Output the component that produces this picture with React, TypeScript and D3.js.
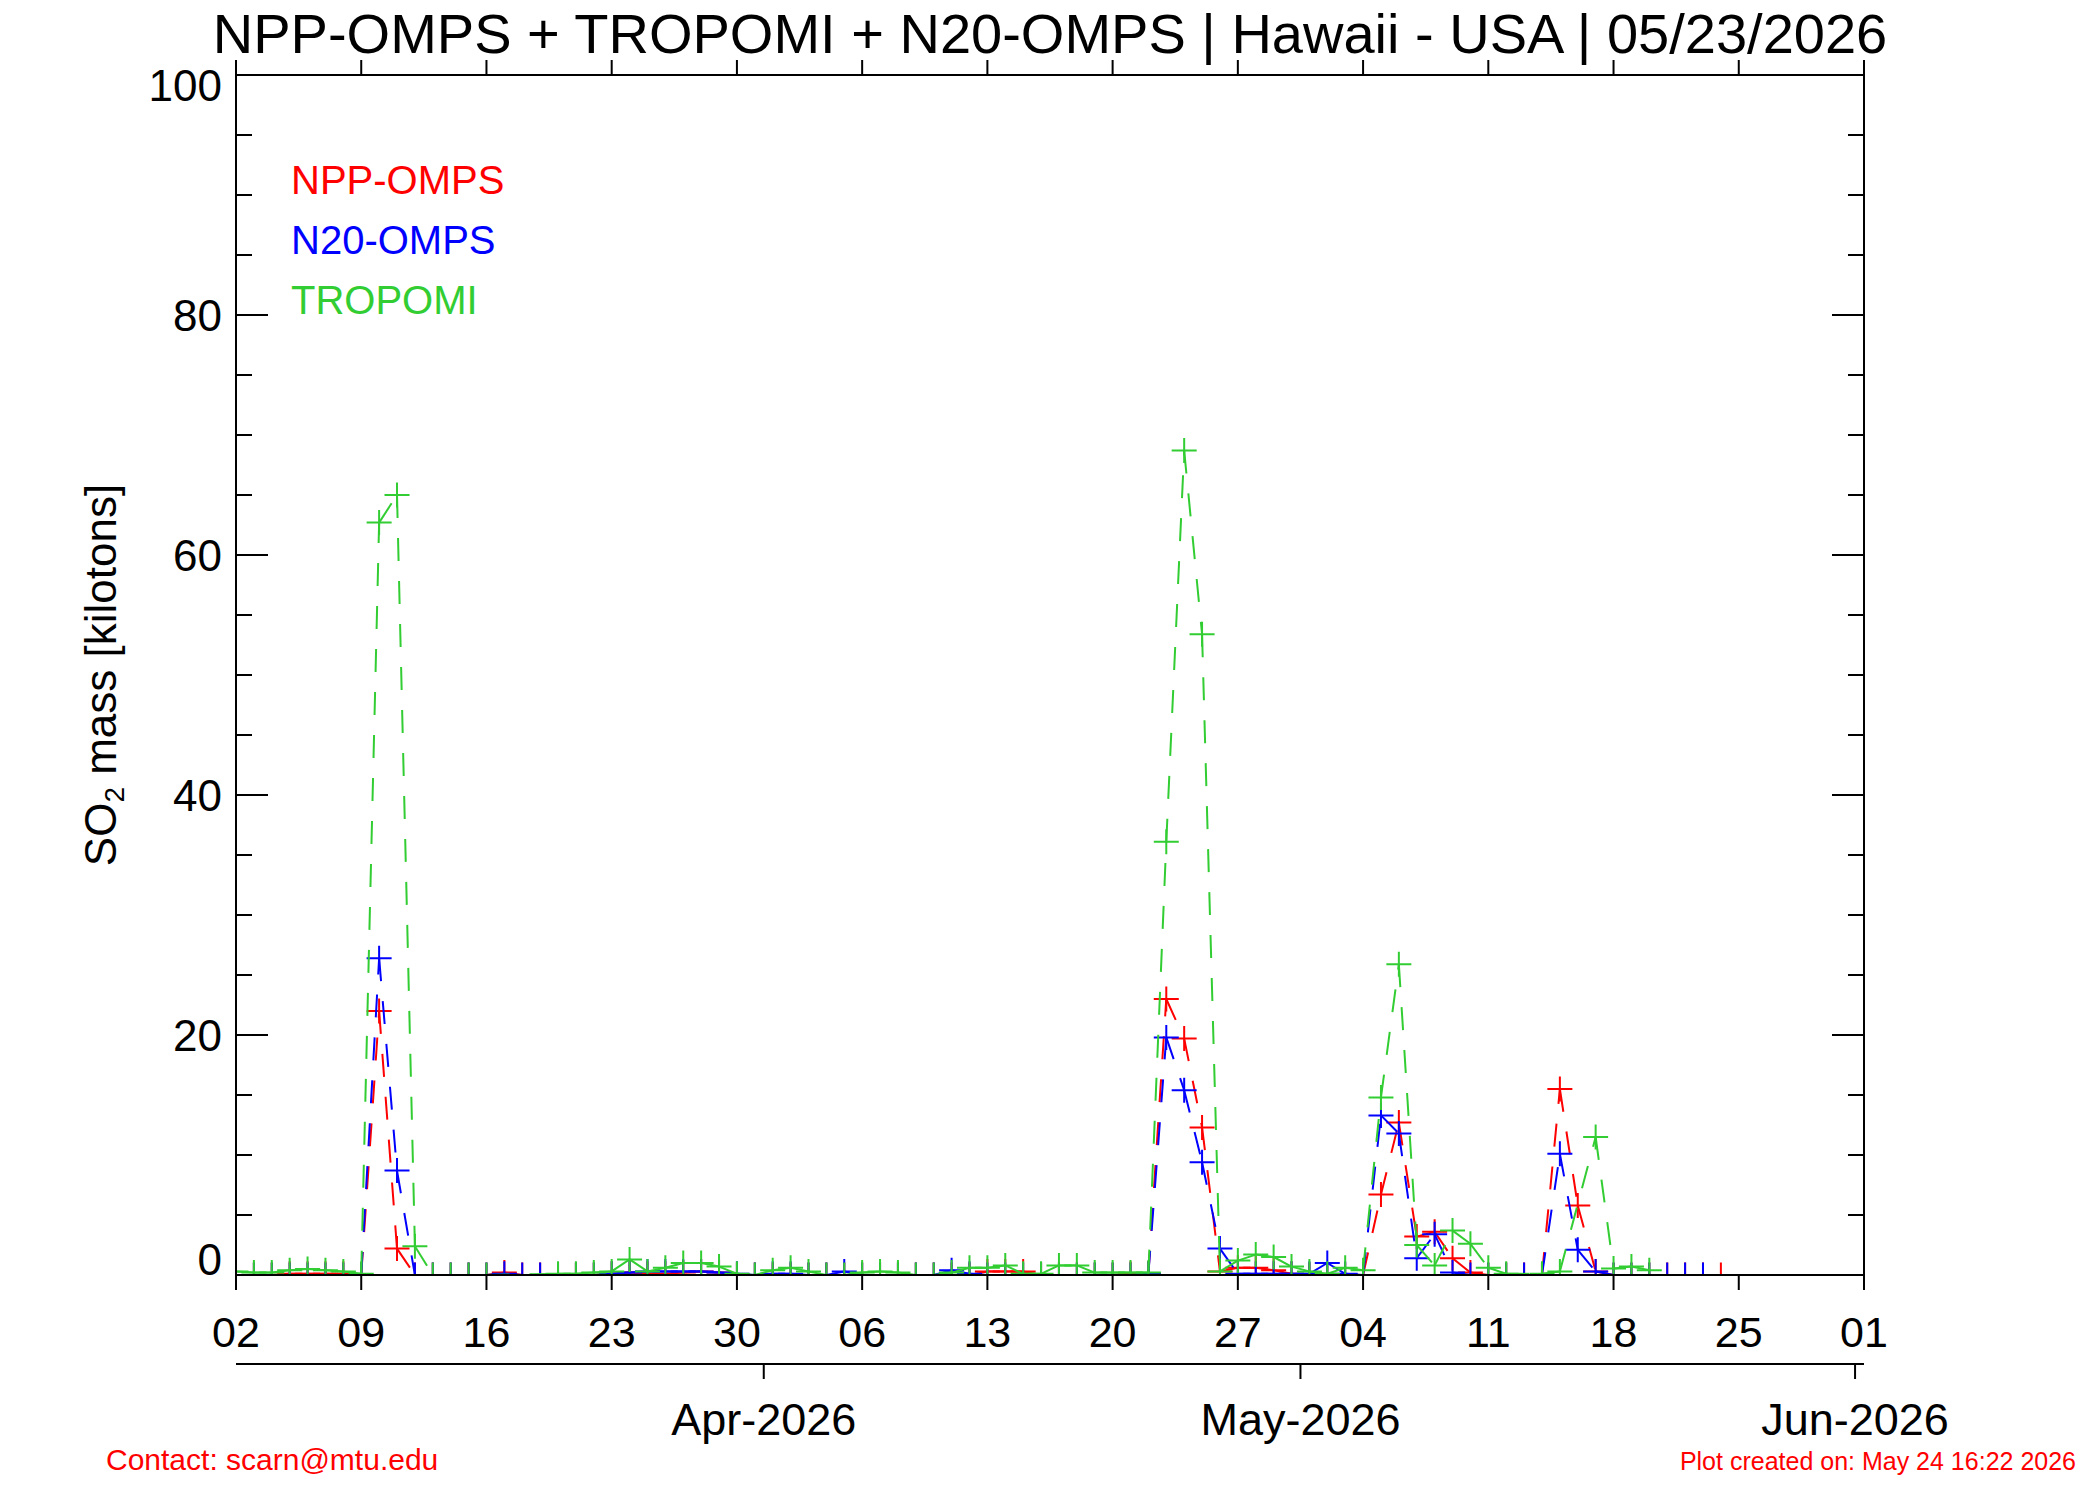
import React from "react";
import * as d3 from "d3";

// ---------- DATA ----------
const TITLE = "NPP-OMPS + TROPOMI + N20-OMPS | Hawaii - USA | 05/23/2026";
const Y_LABEL_MAIN = "SO";
const Y_LABEL_SUB = "2";
const Y_LABEL_REST = " mass [kilotons]";
const CONTACT = "Contact: scarn@mtu.edu";
const CREATED = "Plot created on: May 24 16:22 2026";

const SERIES_START = [2026, 2, 2]; // Mar 2 2026 (UTC)
const AXIS_START = [2026, 2, 2];
const AXIS_END = [2026, 5, 1];
const MONTH_TICK_OFFSET_DAYS = -0.5;

const yMajorTicks = [0, 20, 40, 60, 80, 100];
const yMinorStep = 5;

// NPP-OMPS daily values from Mar 2
const nppMar = [0, 0, 0, 0.1, 0.1, 0.1, 0.1, 0, 22.0, 2.2, 0, 0, 0, 0, 0, 0.2, 0, 0, 0, 0, 0, 0.1, 0.2, 0.1, 0.1, 0.2, 0.3, 0.2, 0, 0];
const nppApr = [0, 0, 0, 0, 0, 0, 0, 0, 0, 0, 0, 0, 0.3, 0.3, 0.3, 0, 0, 0, 0, 0, 0.1, 0.1, 23.0, 19.7, 12.3, 0.3, 0.6, 0.6, 0.4, 0.1];
const nppMay = [0, 0, 0, 0, 6.7, 12.7, 3.2, 3.6, 1.4, 0.2, 0, 0, 0, 0, 15.5, 5.8, 0.3, 0, 0, 0, 0, 0, 0, 0];

// N20-OMPS daily values from Mar 2
const n20Mar = [0, 0, 0, 0, 0, 0, 0, 0, 26.4, 8.7, 0, 0, 0, 0, 0, 0.1, 0, 0, 0, 0, 0, 0.1, 0.2, 0.3, 0.3, 0.3, 0.3, 0.2, 0.1, 0];
const n20Apr = [0.1, 0.1, 0, 0, 0.3, 0, 0, 0, 0, 0, 0.4, 0.1, 0, 0, 0, 0, 0, 0, 0, 0, 0, 0.1, 19.8, 15.4, 9.4, 2.2, 0.1, 0.1, 0.1, 0.1];
const n20May = [0.1, 1.0, 0.1, 0, 13.3, 11.8, 1.4, 3.4, 0.2, 0, 0, 0, 0, 0, 10.1, 2.1, 0.3, 0, 0, 0, 0, 0, 0];

// TROPOMI daily values from Mar 2 (null = no retrieval)
const tropMar = [0.3, 0.2, 0.2, 0.4, 0.5, 0.4, 0.3, 0.1, 62.7, 65.0, 2.4, 0, 0, 0, 0, null, null, null, 0.1, 0.1, 0.2, 0.3, 1.3, 0.3, 0.6, 1.0, 1.0, 0.7, 0.1, 0];
const tropApr = [0.4, 0.6, 0.3, 0, 0, 0.2, 0.3, 0.2, 0, 0, 0.2, 0.6, 0.6, 0.8, 0.1, 0.1, 0.8, 0.8, 0.2, 0.2, 0.2, 0.2, 36.1, 68.7, 53.4, 0.3, 1.2, 1.7, 1.5, 0.7];
const tropMay = [0.3, 0.1, 0.6, 0.4, 14.8, 25.9, 2.5, 0.8, 3.7, 2.6, 0.6, 0.1, null, 0.1, 0.3, null, 11.5, 0.55, 0.7, 0.4];

const SERIES = [
  { name: "NPP-OMPS", color: "#ff0000", values: [...nppMar, ...nppApr, ...nppMay] },
  { name: "N20-OMPS", color: "#0000ff", values: [...n20Mar, ...n20Apr, ...n20May] },
  { name: "TROPOMI", color: "#32cd32", values: [...tropMar, ...tropApr, ...tropMay] },
];

// ---------- LAYOUT ----------
const W = 2100;
const H = 1500;
const PL = 236, PR = 1864, PT = 75, PB = 1275;
const FONT = "'Liberation Sans', Arial, Helvetica, sans-serif";
const DAY = 86400000;

export default function App() {
  const start = new Date(Date.UTC(AXIS_START[0], AXIS_START[1], AXIS_START[2]));
  const end = new Date(Date.UTC(AXIS_END[0], AXIS_END[1], AXIS_END[2]));
  const x = d3.scaleUtc().domain([start, end]).range([PL, PR]);
  const y = d3.scaleLinear().domain([0, 100]).range([PB, PT]);

  const s0 = Date.UTC(SERIES_START[0], SERIES_START[1], SERIES_START[2]);
  const weekTicks = d3.utcDay.range(start, new Date(+end + DAY), 7);
  const dayFmt = d3.utcFormat("%d");
  const monthTicks = d3.utcMonth.range(new Date(+start + DAY), new Date(+end + DAY));
  const monthFmt = d3.utcFormat("%b-%Y");
  const minorTicks = d3.range(0, 100 + 0.001, yMinorStep);

  const seriesPts = SERIES.map((s) => ({
    ...s,
    pts: s.values
      .map((v, i) => (v === null ? null : { px: x(new Date(s0 + i * DAY)), py: y(v as number) }))
      .filter((p) => p !== null) as { px: number; py: number }[],
  }));

  const M = 12.5; // plus half-size

  return (
    <svg width={W} height={H} style={{ position: "absolute", left: 0, top: 0, background: "#fff" }} fontFamily={FONT}>
      <rect x={0} y={0} width={W} height={H} fill="#fff" />
      <defs>
        <clipPath id="plotclip">
          <rect x={PL} y={PT} width={PR - PL} height={PB - PT} />
        </clipPath>
      </defs>

      {/* title */}
      <text x={(PL + PR) / 2} y={53} fontSize={56} textAnchor="middle" fill="#000">{TITLE}</text>

      {/* data */}
      <g clipPath="url(#plotclip)">
        {seriesPts.map((s) => (
          <g key={s.name} stroke={s.color} strokeWidth={2} fill="none">
            {s.pts.slice(1).map((p, i) => (
              <line key={"l" + i} x1={s.pts[i].px} y1={s.pts[i].py} x2={p.px} y2={p.py} strokeDasharray="23 20" />
            ))}
            {s.pts.map((p, i) => (
              <path key={"m" + i} d={`M${p.px - M},${p.py}H${p.px + M}M${p.px},${p.py - M}V${p.py + M}`} />
            ))}
          </g>
        ))}
      </g>

      {/* frame */}
      <g stroke="#000" strokeWidth={2} fill="none">
        <rect x={PL} y={PT} width={PR - PL} height={PB - PT} />
        {weekTicks.map((t, i) => (
          <g key={"wt" + i}>
            <line x1={x(t)} x2={x(t)} y1={PB} y2={PB + 15} />
            <line x1={x(t)} x2={x(t)} y1={PT} y2={PT - 15} />
          </g>
        ))}
        {minorTicks.map((v, i) => {
          const major = yMajorTicks.includes(v);
          const len = major ? 32 : 16;
          return (
            <g key={"yt" + i}>
              <line x1={PL} x2={PL + len} y1={y(v)} y2={y(v)} />
              <line x1={PR} x2={PR - len} y1={y(v)} y2={y(v)} />
            </g>
          );
        })}
        {/* month axis */}
        <line x1={PL} x2={PR} y1={1364} y2={1364} />
        {monthTicks.map((t, i) => {
          const mx = x(new Date(+t + MONTH_TICK_OFFSET_DAYS * DAY));
          return <line key={"mt" + i} x1={mx} x2={mx} y1={1364} y2={1379} />;
        })}
      </g>

      {/* y tick labels */}
      {yMajorTicks.map((v) => (
        <text key={"yl" + v} x={222} y={Math.min(Math.max(y(v) + 16, PT + 26), PB)} fontSize={44} textAnchor="end" fill="#000">
          {v}
        </text>
      ))}

      {/* day labels */}
      {weekTicks.map((t, i) => (
        <text key={"dl" + i} x={x(t)} y={1347} fontSize={43} textAnchor="middle" fill="#000">
          {dayFmt(t)}
        </text>
      ))}

      {/* month labels */}
      {monthTicks.map((t, i) => (
        <text key={"ml" + i} x={x(new Date(+t + MONTH_TICK_OFFSET_DAYS * DAY))} y={1435} fontSize={45} textAnchor="middle" fill="#000">
          {monthFmt(t)}
        </text>
      ))}

      {/* y axis title */}
      <text transform={`translate(116,${(PT + PB) / 2}) rotate(-90)`} fontSize={44} textAnchor="middle" fill="#000">
        {Y_LABEL_MAIN}
        <tspan fontSize={28} dy={8}>{Y_LABEL_SUB}</tspan>
        <tspan dy={-8}>{Y_LABEL_REST}</tspan>
      </text>

      {/* legend */}
      {SERIES.map((s, i) => (
        <text key={"lg" + i} x={291} y={194 + i * 60} fontSize={40} fill={s.color}>
          {s.name}
        </text>
      ))}

      {/* footer */}
      <text x={106} y={1470} fontSize={30} fill="#ff0000">{CONTACT}</text>
      <text x={2076} y={1470} fontSize={25} textAnchor="end" fill="#ff0000">{CREATED}</text>
    </svg>
  );
}
